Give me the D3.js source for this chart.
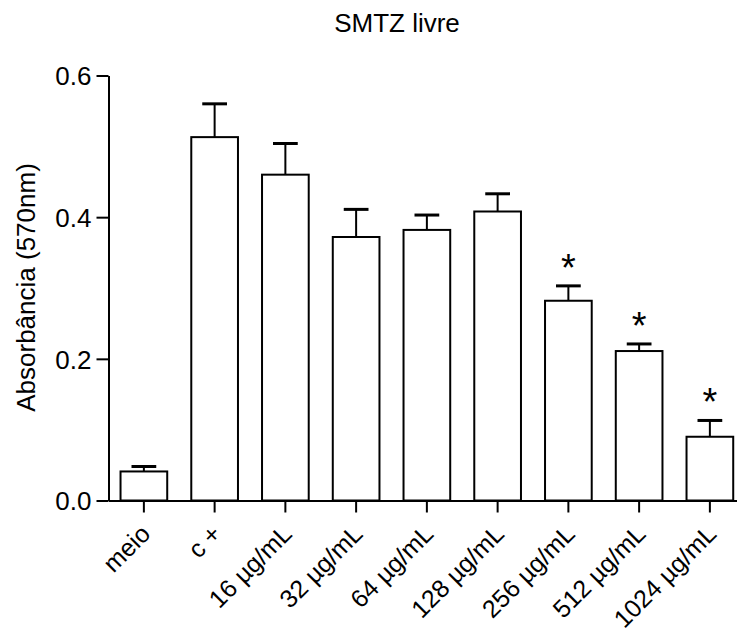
<!DOCTYPE html>
<html>
<head>
<meta charset="utf-8">
<script src="https://cdn.jsdelivr.net/npm/d3@7"></script>
<style>
  body { margin: 0; background: #fff; }
  svg { display: block; }
  text { font-family: "Liberation Sans", Arial, sans-serif; fill: #000; }
</style>
</head>
<body>
<svg id="chart" width="737" height="635"></svg>
<script>
const categories = ["meio", "c +", "16 µg/mL", "32 µg/mL", "64 µg/mL", "128 µg/mL", "256 µg/mL", "512 µg/mL", "1024 µg/mL"];
const means = [0.041, 0.513, 0.460, 0.372, 0.382, 0.408, 0.282, 0.211, 0.090];
const sems = [0.007, 0.047, 0.044, 0.039, 0.021, 0.025, 0.021, 0.010, 0.023];
const significant = [false, false, false, false, false, false, true, true, true];
const yTicks = [0.0, 0.2, 0.4, 0.6];
const yTickLabels = ["0.0", "0.2", "0.4", "0.6"];
const title = "SMTZ livre";
const yTitle = "Absorbância (570nm)";

const svg = d3.select("#chart");
const x0 = 108.5, x1 = 745.25, yBase = 500.5, yTop = 75.5;

const x = d3.scaleBand().domain(categories).range([x0, x1]).paddingInner(0.34).paddingOuter(0.17);
const y = d3.scaleLinear().domain([0, 0.6]).range([yBase, yTop]);

// Bars
svg.append("g").selectAll("rect").data(categories).join("rect")
  .attr("x", d => x(d))
  .attr("y", (d, i) => y(means[i]))
  .attr("width", x.bandwidth())
  .attr("height", (d, i) => yBase - y(means[i]))
  .attr("fill", "#fff").attr("stroke", "#000").attr("stroke-width", 2);

// Error bars (upper only)
const eb = svg.append("g");
categories.forEach((d, i) => {
  const cx = x(d) + x.bandwidth() / 2;
  const top = y(means[i] + sems[i]);
  eb.append("line").attr("x1", cx).attr("x2", cx).attr("y1", y(means[i])).attr("y2", top)
    .attr("stroke", "#000").attr("stroke-width", 2);
  const cw = x.bandwidth() * 0.53;
  eb.append("line").attr("x1", cx - cw / 2).attr("x2", cx + cw / 2).attr("y1", top).attr("y2", top)
    .attr("stroke", "#000").attr("stroke-width", 3);
  if (significant[i]) {
    eb.append("text").attr("x", cx).attr("y", top - 5).attr("text-anchor", "middle")
      .attr("font-size", 38).text("*");
  }
});

// Y axis
const yAxis = d3.axisLeft(y).tickValues(yTicks).tickFormat((d, i) => yTickLabels[i]).tickSize(12).tickPadding(5).tickSizeOuter(0);
const gy = svg.append("g").attr("transform", `translate(${x0},0)`).call(yAxis);
gy.select(".domain").attr("stroke-width", 2);
gy.selectAll(".tick line").attr("stroke-width", 2);
gy.selectAll(".tick text").attr("font-size", 26).attr("font-family", "Liberation Sans, Arial, sans-serif").attr("dy", "0.36em");

// X axis
const xAxis = d3.axisBottom(x).tickSize(12).tickSizeOuter(0);
const gx = svg.append("g").attr("transform", `translate(0,${yBase})`).call(xAxis);
gx.select(".domain").attr("stroke-width", 2);
gx.selectAll(".tick line").attr("stroke-width", 2);
gx.selectAll(".tick text")
  .attr("font-size", 25).attr("font-family", "Liberation Sans, Arial, sans-serif")
  .attr("x", 0).attr("y", 0).attr("dy", 0)
  .attr("text-anchor", "end")
  .attr("transform", "translate(8,35) rotate(-45)");

// Titles
svg.append("text").attr("x", 397).attr("y", 31.5).attr("text-anchor", "middle")
  .attr("font-size", 26).text(title);
svg.append("text").attr("transform", "translate(35,287.5) rotate(-90)").attr("text-anchor", "middle")
  .attr("font-size", 26).text(yTitle);
</script>
</body>
</html>
